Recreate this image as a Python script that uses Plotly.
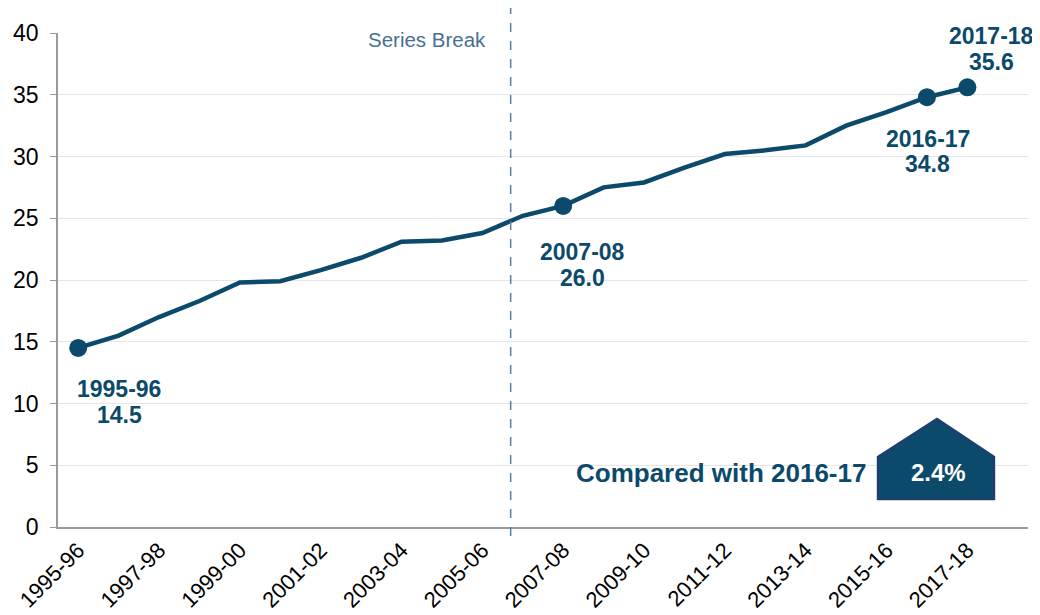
import plotly.graph_objects as go

years = ["1995-96", "1996-97", "1997-98", "1998-99", "1999-00", "2000-01", "2001-02",
         "2002-03", "2003-04", "2004-05", "2005-06", "2006-07", "2007-08", "2008-09",
         "2009-10", "2010-11", "2011-12", "2012-13", "2013-14", "2014-15", "2015-16",
         "2016-17", "2017-18"]
values = [14.5, 15.5, 17.0, 18.3, 19.8, 19.9, 20.8, 21.8, 23.1, 23.2, 23.8, 25.2, 26.0,
          27.5, 27.9, 29.1, 30.2, 30.5, 30.9, 32.5, 33.6, 34.8, 35.6]
highlight = ["1995-96", "2007-08", "2016-17", "2017-18"]
tick_labels = years[::2]
y_ticks = [0, 5, 10, 15, 20, 25, 30, 35, 40]
change_text = "2.4%"
compare_text = "Compared with 2016-17"
break_text = "Series Break"

NAVY = "#0B4A6B"
FONT = "Liberation Sans, Arial, sans-serif"

x_idx = list(range(len(years)))
hl_idx = [years.index(h) for h in highlight]
hl_vals = [values[i] for i in hl_idx]

fig = go.Figure()
fig.add_trace(go.Scatter(x=x_idx, y=values, mode="lines",
                         line=dict(color=NAVY, width=4.5), hoverinfo="skip",
                         showlegend=False))
fig.add_trace(go.Scatter(x=hl_idx, y=hl_vals, mode="markers",
                         marker=dict(color=NAVY, size=18), showlegend=False))

# data labels: (xshift, yshift of year line, yshift of value line) in pixels
label_pos = {"1995-96": (41, -41, -67), "2007-08": (19, -46, -72),
             "2016-17": (1, -42, -67), "2017-18": (24, 51, 25)}
for i, v in zip(hl_idx, hl_vals):
    dx, dy1, dy2 = label_pos[years[i]]
    fig.add_annotation(x=i, y=v, text=f"<b>{years[i]}</b>", showarrow=False,
                       xshift=dx, yshift=dy1, font=dict(family=FONT, size=23, color=NAVY))
    fig.add_annotation(x=i, y=v, text=f"<b>{v:.1f}</b>", showarrow=False,
                       xshift=dx, yshift=dy2, font=dict(family=FONT, size=23, color=NAVY))

# series break
brk = 10.7
fig.add_shape(type="line", xref="x", yref="paper", x0=brk, x1=brk, y0=-0.018, y1=1.057,
              line=dict(color="#5B7FA3", width=1.5, dash="dash"))
fig.add_annotation(x=brk, y=39.5, xref="x", yref="y", text=break_text, showarrow=False,
                   xanchor="right", xshift=-23,
                   font=dict(family=FONT, size=20.5, color="#4A6F94"))

# change badge
fig.add_shape(type="path", xref="paper", yref="paper",
              path="M 0.8454 0.0567 L 0.8454 0.1417 L 0.9062 0.2186 L 0.9649 0.1417 L 0.9649 0.0567 Z",
              fillcolor=NAVY, line=dict(color="#1E3F6E", width=2.5))
fig.add_annotation(xref="paper", yref="paper", x=0.9082, y=0.111, xanchor="center",
                   yanchor="middle", text=f"<b>{change_text}</b>",
                   showarrow=False, font=dict(family=FONT, size=24, color="white"))
fig.add_annotation(xref="paper", yref="paper", x=0.835, y=0.109, xanchor="right",
                   yanchor="middle", text=f"<b>{compare_text}</b>", showarrow=False,
                   font=dict(family=FONT, size=26, color=NAVY))

fig.update_layout(
    width=1032, height=607,
    margin=dict(l=50, r=12, t=25, b=88, autoexpand=False),
    plot_bgcolor="white", paper_bgcolor="white",
    font=dict(family=FONT, color="black"),
    xaxis=dict(range=[-0.5, 23.5], tickmode="array", automargin=False,
               tickvals=[years.index(t) for t in tick_labels], ticktext=tick_labels,
               tickangle=-45, tickfont=dict(size=22, color="black"),
               showgrid=False, showline=True, linecolor="#9A9A9A", linewidth=1.5,
               ticks="", zeroline=False),
    yaxis=dict(range=[0, 40], tickvals=y_ticks, tickfont=dict(size=23, color="black"),
               automargin=False, ticklabelstandoff=7,
               showgrid=True, gridcolor="#E6E6E6", gridwidth=1,
               showline=True, linecolor="#9A9A9A", linewidth=1.5,
               ticks="outside", ticklen=6, tickcolor="#9A9A9A", zeroline=False),
)

fig.write_html("out.html")
